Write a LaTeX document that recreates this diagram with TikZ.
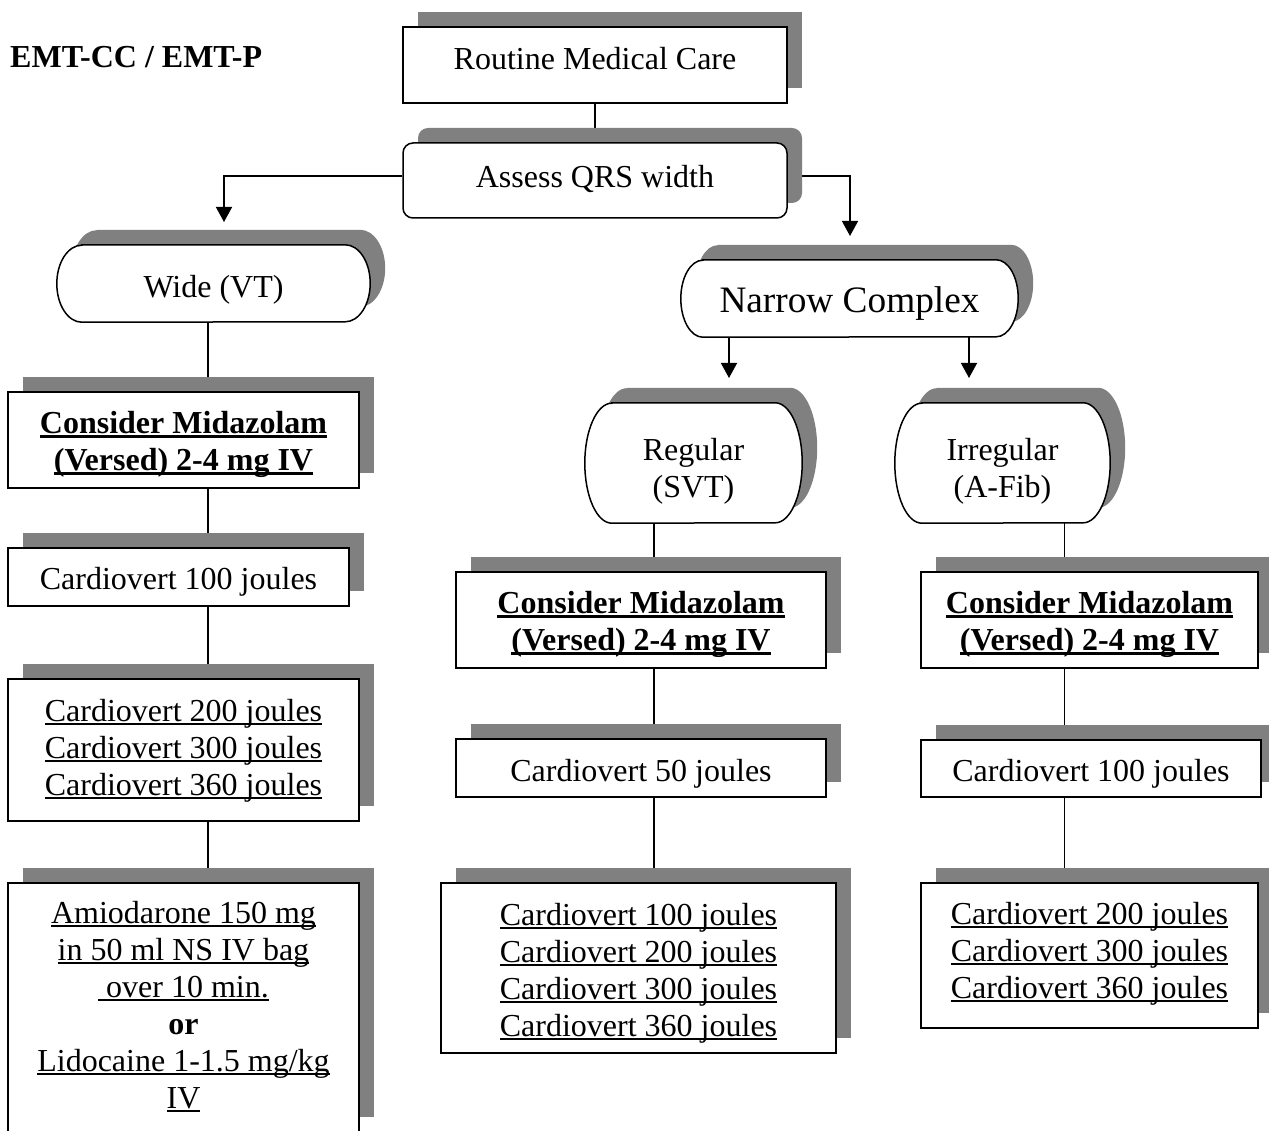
\documentclass[tikz,border=0pt]{standalone}
\usepackage{fontspec}
\setmainfont{Liberation Serif}
\usetikzlibrary{arrows.meta,shadows,backgrounds}

\definecolor{shadowgray}{RGB}{128,128,128}
\newcommand{\uln}[1]{\leavevmode\setbox0\hbox{#1}\rlap{\rule[-3.5pt]{\wd0}{2pt}}\box0}
\newcommand{\ulbf}[1]{\leavevmode\setbox0\hbox{#1}\rlap{\rule[-5pt]{\wd0}{3pt}}\box0}

\begin{document}
\begin{tikzpicture}[x=1pt,y=-1pt,
  every node/.style={font=\fontsize{32}{37}\selectfont, align=center, inner sep=0pt},
  shadebox/.style={drop shadow={shadow xshift=15pt,shadow yshift=15pt,opacity=1,fill=shadowgray}},
  boxnode/.style={shadebox, draw, line width=1.5pt, fill=white},
  roundbox/.style={boxnode, rounded corners=10pt},
  termnode/.style={inner sep=0pt},
  termpath/.style n args={3}{insert path={([xshift=#2]#1.north west) -- ([xshift=-#2]#1.north east)
      arc[start angle=90,end angle=-90,x radius=#2,y radius=#3] -- ([xshift=#2]#1.south west)
      arc[start angle=270,end angle=90,x radius=#2,y radius=#3] -- cycle}},
  termshadow/.style={fill=shadowgray, transform canvas={xshift=15pt,yshift=15pt}},
  termline/.style={draw, line width=1.5pt, fill=white},
  boldtext/.style={font=\fontsize{32}{37}\selectfont\bfseries},
  bigtext/.style={font=\fontsize{37.3}{43}\selectfont},
  link/.style={line width=1.5pt},
  arr/.style={link, -{Triangle[width=16pt,length=15pt]}}]

  % Page
  \useasboundingbox (0,0) rectangle (1269,1131);
  \begin{pgfonlayer}{background}
    \fill[white] (0,0) rectangle (1269,1131);
  \end{pgfonlayer}

  % Heading
  \node[anchor=west, boldtext] (title) at (10,57) {EMT-CC / EMT-P};

%%%%%%%%%%%%%%%%%%%%%%%%%%%%%%%%%%%%%%%%%%
  % Top of the chart
  \node[boxnode, minimum width=384pt, minimum height=76pt,
        label={[yshift=6.5pt]center:Routine Medical Care}] (routine) at (595,65) {};
  \node[roundbox, minimum width=384pt, minimum height=75pt,
        label={[yshift=1.5pt]center:Assess QRS width}] (assess) at (595,180.5) {};

%%%%%%%%%%%%%%%%%%%%%%%%%%%%%%%%%%%%%%%%%%
  % Wide branch
  \node[termnode, minimum width=313pt, minimum height=77pt,
        label={[yshift=-6pt]center:Wide (VT)}] (wide) at (213.5,283.5) {};
  \node[boxnode, minimum width=351pt, minimum height=96pt,
        label={[boldtext,yshift=-4pt]center:{\ulbf{Consider Midazolam}\\\ulbf{(Versed) 2-4 mg IV}}}] (sedL) at (183.5,440) {};
  \node[boxnode, minimum width=341pt, minimum height=58pt,
        label={[yshift=-5pt]center:Cardiovert 100 joules}] (cvL) at (178.5,577) {};
  \node[boxnode, minimum width=351pt, minimum height=142pt,
        label={[yshift=-0.5pt]center:{\uln{Cardiovert 200 joules}\\\uln{Cardiovert 300 joules}\\\uln{Cardiovert 360 joules}}}] (cvLL) at (183.5,750) {};
  \node[boxnode, minimum width=351pt, minimum height=249pt,
        label={[yshift=0.5pt]center:{\uln{Amiodarone 150 mg}\\\uln{in 50 ml NS IV bag}\\\uln{\ over 10 min.}\\
          \textbf{or}\\\uln{Lidocaine 1-1.5 mg/kg}\\\uln{IV}}}] (amio) at (183.5,1007.5) {};

%%%%%%%%%%%%%%%%%%%%%%%%%%%%%%%%%%%%%%%%%%
  % Narrow branch
  \node[termnode, minimum width=337pt, minimum height=77pt,
        label={[bigtext,yshift=-5.5pt]center:Narrow Complex}] (narrow) at (849.5,298.5) {};

  % Regular (SVT)
  \node[termnode, minimum width=217pt, minimum height=120pt,
        label={[yshift=-8pt]center:{Regular\\(SVT)}}] (regular) at (693.5,463) {};
  \node[boxnode, minimum width=370pt, minimum height=96pt,
        label={[boldtext,yshift=-4pt]center:{\ulbf{Consider Midazolam}\\\ulbf{(Versed) 2-4 mg IV}}}] (sedM) at (641,620) {};
  \node[boxnode, minimum width=370pt, minimum height=58pt,
        label={[yshift=-6pt]center:Cardiovert 50 joules}] (cvM) at (641,768) {};
  \node[boxnode, minimum width=395pt, minimum height=170pt,
        label={[yshift=-5.5pt]center:{\uln{Cardiovert 100 joules}\\\uln{Cardiovert 200 joules}\\\uln{Cardiovert 300 joules}\\\uln{Cardiovert 360 joules}}}] (cvMM) at (638.5,968) {};

  % Irregular (A-Fib)
  \node[termnode, minimum width=215pt, minimum height=120pt,
        label={[yshift=-8pt]center:{Irregular\\(A-Fib)}}] (irregular) at (1002.5,463) {};
  \node[boxnode, minimum width=337pt, minimum height=96pt,
        label={[boldtext,yshift=-4pt]center:{\ulbf{Consider Midazolam}\\\ulbf{(Versed) 2-4 mg IV}}}] (sedR) at (1089.5,620) {};
  \node[boxnode, minimum width=340pt, minimum height=57pt,
        label={[yshift=-5pt]center:Cardiovert 100 joules}] (cvR) at (1091,768.5) {};
  \node[boxnode, minimum width=337pt, minimum height=145pt,
        label={[yshift=1.5pt]center:{\uln{Cardiovert 200 joules}\\\uln{Cardiovert 300 joules}\\\uln{Cardiovert 360 joules}}}] (cvRR) at (1089.5,955.5) {};

%%%%%%%%%%%%%%%%%%%%%%%%%%%%%%%%%%%%%%%%%%
  % Connectors
  \coordinate (wtip) at (224,222);
  \coordinate (ntip) at (850,236);
  \coordinate (rtip) at (729,378);
  \coordinate (itip) at (969,378);
  \coordinate (colL) at (208,0);
  \coordinate (colM) at (654,0);
  \coordinate (colR) at (1064.5,0);

  \begin{pgfonlayer}{background}
    \draw[link] (routine) -- (assess);
    \draw[arr] ([yshift=4.5pt]assess.west) -| (wtip);
    \draw[arr] ([yshift=4.5pt]assess.east) -| (ntip);
    \draw[arr] (rtip |- narrow.south) -- (rtip);
    \draw[arr] (itip |- narrow.south) -- (itip);

    % left column
    \draw[link] (colL |- wide.south) -- (colL |- sedL.north);
    \draw[link] (colL |- sedL.south) -- (colL |- cvL.north);
    \draw[link] (colL |- cvL.south) -- (colL |- cvLL.north);
    \draw[link] (colL |- cvLL.south) -- (colL |- amio.north);

    % middle column
    \draw[link] (colM |- regular.south) -- (colM |- sedM.north);
    \draw[link] (colM |- sedM.south) -- (colM |- cvM.north);
    \draw[link] (colM |- cvM.south) -- (colM |- cvMM.north);

    % right column
    \draw[link] (colR |- irregular.south) -- (colR |- sedR.north);
    \draw[link] (colR |- sedR.south) -- (colR |- cvR.north);
    \draw[link] (colR |- cvR.south) -- (colR |- cvRR.north);

    % Terminator outlines with their shadows
    \path[termshadow, termpath={wide}{25pt}{38.5pt}];
    \path[termshadow, termpath={narrow}{22pt}{38.5pt}];
    \path[termshadow, termpath={regular}{27pt}{60pt}];
    \path[termshadow, termpath={irregular}{27pt}{60pt}];
    \path[termline, termpath={wide}{25pt}{38.5pt}];
    \path[termline, termpath={narrow}{22pt}{38.5pt}];
    \path[termline, termpath={regular}{27pt}{60pt}];
    \path[termline, termpath={irregular}{27pt}{60pt}];
  \end{pgfonlayer}

\end{tikzpicture}
\end{document}
